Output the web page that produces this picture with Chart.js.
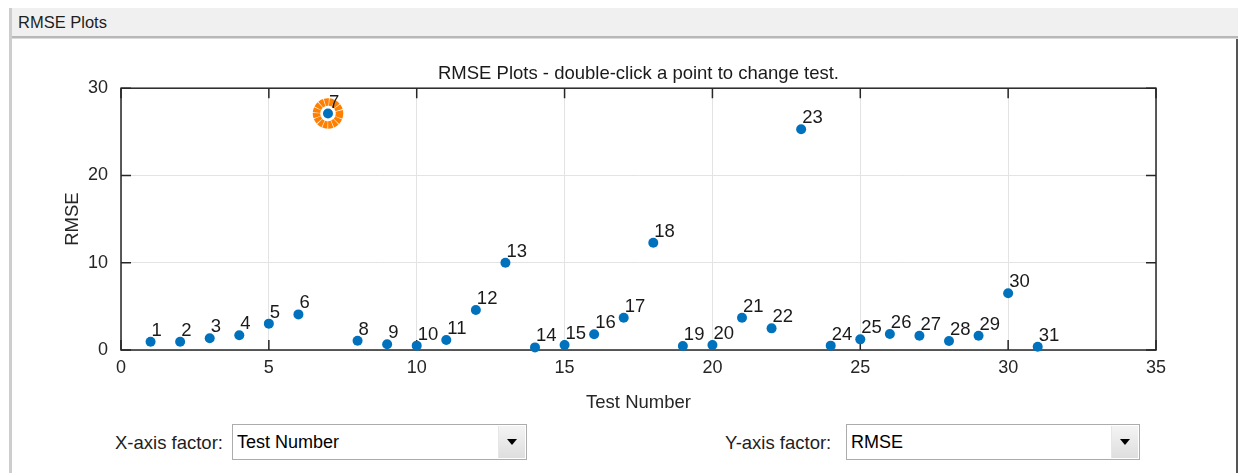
<!DOCTYPE html>
<html>
<head>
<meta charset="utf-8">
<title>RMSE Plots</title>
<script src="https://cdn.jsdelivr.net/npm/chart.js@4.4.1/dist/chart.umd.min.js"></script>
<style>
  html, body { margin: 0; padding: 0; background: #fff; }
  body { width: 1239px; height: 473px; position: relative; overflow: hidden; font-family: 'Liberation Sans', Arial, sans-serif; }
  .leftEdge { position: absolute; left: 9px; top: 8px; width: 3px; height: 465px; background: #cdcdcd; }
  .rightEdge { position: absolute; left: 1236px; top: 39px; width: 2px; height: 434px; background: #555; }
  .bar { position: absolute; left: 12px; top: 8px; width: 1226px; height: 28px; background: #f0f0f0;
         border-bottom: 2px solid #b8b8b8; box-shadow: 0 1px 0 #dadada; }
  .bar span { position: absolute; left: 6px; top: 0; line-height: 28px; font-size: 16.5px; color: #1e1e1e; }
  #chartBox { position: absolute; left: 0; top: 0; width: 1239px; height: 420px; }
  .factor { position: absolute; font-size: 18.5px; color: #1e1e1e; line-height: 20px; }
  .combo { position: absolute; height: 36px; border: 1px solid #acacac; box-sizing: border-box; background: #fff; }
  .combo .val { position: absolute; left: 4px; top: 0; line-height: 34px; font-size: 18px; color: #000; }
  .combo .btn { position: absolute; right: 1px; top: 1px; width: 26px; height: 32px;
                background: linear-gradient(#f4f4f4, #dedede); border-left: 1px solid #e6e6e6; }
  .combo .btn::after { content: ''; position: absolute; left: 8px; top: 13px;
                       border-left: 5px solid transparent; border-right: 5px solid transparent; border-top: 6px solid #000; }
</style>
</head>
<body>
<div class="leftEdge"></div>
<div class="bar"><span>RMSE Plots</span></div>
<div class="rightEdge"></div>
<div id="chartBox"><canvas id="rmseChart"></canvas></div>

<div class="factor" style="left:115px; top:433px;">X-axis factor:</div>
<div class="combo" style="left:232px; top:424px; width:295px;"><div class="val">Test Number</div><div class="btn"></div></div>
<div class="factor" style="left:725px; top:433px;">Y-axis factor:</div>
<div class="combo" style="left:846px; top:424px; width:294px;"><div class="val">RMSE</div><div class="btn"></div></div>

<script>
const testNumbers = [1, 2, 3, 4, 5, 6, 7, 8, 9, 10, 11, 12, 13, 14, 15, 16,
                     17, 18, 19, 20, 21, 22, 23, 24, 25, 26, 27, 28, 29, 30, 31];
const rmseValues = [0.95, 0.95, 1.34, 1.68, 3.02, 4.08, 27.1, 1.07, 0.65, 0.5, 1.15, 4.58, 10.0, 0.3, 0.57, 1.8,
                    3.7, 12.3, 0.46, 0.57, 3.7, 2.48, 25.3, 0.5, 1.22, 1.83, 1.64, 1.03, 1.64, 6.5, 0.38];
const xTickValues = [0, 5, 10, 15, 20, 25, 30, 35];
const yTickValues = [0, 10, 20, 30];
const selectedTest = 7;

const axisColor = '#262626';
const dotColor = '#0072bd';
const tickLen = 10;

Chart.defaults.font.family = "'Liberation Sans', Arial, sans-serif";
Chart.defaults.color = axisColor;

// axes box with inward ticks, test number labels and the selected-test ring
const plotDecor = {
    id: 'plotDecor',
    beforeDatasetsDraw(chart) {
        const { ctx, chartArea: a, scales: { x, y } } = chart;
        ctx.save();
        ctx.strokeStyle = axisColor;
        ctx.lineWidth = 1.5;
        ctx.strokeRect(a.left, a.top, a.right - a.left, a.bottom - a.top);
        ctx.beginPath();
        xTickValues.forEach(v => {
            const px = x.getPixelForValue(v);
            ctx.moveTo(px, a.bottom); ctx.lineTo(px, a.bottom - tickLen);
            ctx.moveTo(px, a.top); ctx.lineTo(px, a.top + tickLen);
        });
        yTickValues.forEach(v => {
            const py = y.getPixelForValue(v);
            ctx.moveTo(a.left, py); ctx.lineTo(a.left + tickLen, py);
            ctx.moveTo(a.right, py); ctx.lineTo(a.right - tickLen, py);
        });
        ctx.stroke();

        // dotted orange ring round the selected test
        const i = testNumbers.indexOf(selectedTest);
        const cx = x.getPixelForValue(testNumbers[i]);
        const cy = y.getPixelForValue(rmseValues[i]);
        ctx.strokeStyle = '#ff8000';
        ctx.lineWidth = 7.5;
        ctx.setLineDash([4, 0.6]);
        ctx.beginPath();
        ctx.arc(cx, cy, 11.5, 0, Math.PI * 2);
        ctx.stroke();
        ctx.restore();
    },
    afterDatasetsDraw(chart) {
        const { ctx, scales: { x, y } } = chart;
        ctx.save();
        ctx.font = "18.5px 'Liberation Sans', Arial, sans-serif";
        ctx.fillStyle = '#1a1a1a';
        ctx.textAlign = 'left';
        ctx.textBaseline = 'middle';
        testNumbers.forEach((t, i) => {
            ctx.fillText(String(t), x.getPixelForValue(t) + 1, y.getPixelForValue(rmseValues[i]) - 11);
        });
        ctx.restore();
    }
};

new Chart(document.getElementById('rmseChart'), {
    type: 'scatter',
    data: {
        datasets: [{
            label: 'RMSE',
            data: testNumbers.map((t, i) => ({ x: t, y: rmseValues[i] })),
            backgroundColor: dotColor,
            borderColor: dotColor,
            pointRadius: 5,
            pointBorderWidth: 0,
            clip: false
        }]
    },
    options: {
        responsive: true,
        maintainAspectRatio: false,
        animation: false,
        layout: { padding: { left: 0, right: 83, top: 0, bottom: 0 } },
        plugins: {
            legend: { display: false },
            tooltip: { enabled: false },
            title: {
                display: true,
                text: 'RMSE Plots - double-click a point to change test.',
                fullSize: false,
                color: '#1a1a1a',
                font: { size: 18.5, weight: 'normal' },
                padding: { top: 63, bottom: 3 }
            }
        },
        scales: {
            x: {
                type: 'linear',
                min: 0,
                max: 35,
                afterBuildTicks: s => { s.ticks = xTickValues.map(v => ({ value: v })); },
                afterFit: s => { s.height = 70; },
                grid: { color: '#e3e3e3', drawTicks: false },
                border: { display: false },
                ticks: { padding: 7, font: { size: 18 }, color: axisColor, maxRotation: 0 },
                title: { display: true, text: 'Test Number', font: { size: 18.5 }, color: axisColor, padding: { top: 0, bottom: 6 } }
            },
            y: {
                type: 'linear',
                min: 0,
                max: 30,
                afterBuildTicks: s => { s.ticks = yTickValues.map(v => ({ value: v })); },
                afterFit: s => { s.width = 121; },
                grid: { color: '#e3e3e3', drawTicks: false },
                border: { display: false },
                ticks: { padding: 13, font: { size: 18 }, color: axisColor },
                title: { display: true, text: 'RMSE', font: { size: 18.5 }, color: axisColor, padding: { top: 62, bottom: 0 } }
            }
        }
    },
    plugins: [plotDecor]
});
</script>
</body>
</html>
